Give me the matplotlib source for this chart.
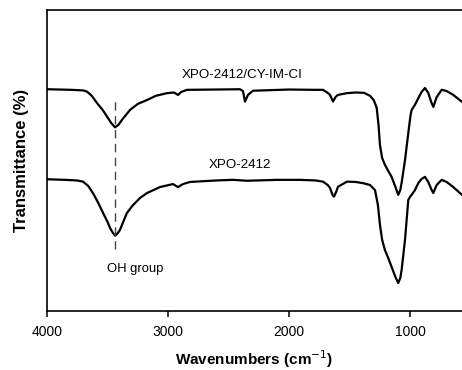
import matplotlib
matplotlib.use('Agg')
import matplotlib.pyplot as plt

plt.rcParams['font.family'] = ['Liberation Sans', 'DejaVu Sans']

# XPO-2412/CY-IM-CI (upper trace), arbitrary transmittance units
wn_top = [4000, 3800, 3700, 3669, 3630, 3587, 3540, 3504, 3470, 3438, 3410, 3380,
          3314, 3250, 3174, 3100, 3008, 2950, 2917, 2890, 2843, 2600, 2405, 2380,
          2364, 2350, 2339, 2298, 2000, 1800, 1719, 1680, 1661, 1636, 1615, 1595,
          1521, 1450, 1380, 1330, 1300, 1275, 1260, 1248, 1230, 1207, 1180, 1152,
          1120, 1097, 1080, 1069, 1041, 1014, 995, 986, 959, 930, 904, 876, 849,
          825, 807, 790, 779, 738, 697, 642, 570]
t_top = [73.9, 73.7, 73.5, 73.1, 71.7, 69.3, 67.0, 64.8, 62.7, 61.2, 62.0, 63.7,
         67.0, 69.0, 70.3, 71.7, 72.6, 72.8, 72.0, 73.0, 73.7, 73.8, 73.9, 73.3,
         69.8, 71.0, 72.0, 73.4, 73.8, 73.7, 73.7, 72.7, 72.0, 69.8, 71.3, 72.0,
         72.6, 72.8, 72.7, 71.7, 70.3, 67.7, 62.0, 55.3, 51.0, 48.7, 46.7, 44.7,
         41.3, 38.7, 40.3, 42.7, 50.3, 59.3, 65.3, 67.0, 68.7, 71.0, 73.0, 74.3, 72.7,
         69.7, 68.0, 70.0, 71.3, 73.7, 73.3, 72.0, 69.7]

# XPO-2412 (lower trace)
wn_bot = [4000, 3850, 3750, 3702, 3660, 3620, 3580, 3537, 3500, 3479, 3455, 3438,
          3420, 3397, 3370, 3339, 3289, 3230, 3174, 3066, 2959, 2917, 2876, 2818,
          2600, 2463, 2347, 2100, 1909, 1780, 1719, 1680, 1661, 1640, 1628, 1610,
          1595, 1521, 1450, 1388, 1331, 1289, 1265, 1248, 1230, 1207, 1180, 1152,
          1120, 1097, 1080, 1069, 1041, 1014, 995, 986, 959, 930, 904, 876, 849,
          825, 807, 790, 779, 738, 697, 642, 570]
t_bot = [43.9, 43.7, 43.5, 43.1, 41.7, 39.3, 36.3, 32.7, 29.7, 27.7, 26.0, 25.1,
         25.7, 27.0, 29.7, 32.7, 35.3, 37.7, 39.3, 41.3, 42.3, 41.3, 42.3, 43.0,
         43.5, 43.7, 43.4, 43.7, 43.7, 43.5, 43.1, 42.0, 41.0, 38.7, 38.1, 39.7,
         41.4, 43.1, 43.0, 42.6, 42.0, 40.3, 35.3, 28.7, 23.7, 20.3, 17.7, 14.7,
         11.3, 9.3, 11.0, 13.7, 23.7, 37.0, 38.3, 38.7, 40.3, 42.7, 44.0, 44.7, 43.0,
         40.7, 39.3, 41.0, 42.0, 43.7, 43.0, 41.3, 38.7]

oh_wn = 3438
oh_span = (20.7, 71.3)

fig = plt.figure(figsize=(4.62, 3.70), dpi=100)
ax = fig.add_axes([47 / 462, 59 / 370, 1 - 47 / 462, 301 / 370])

ax.plot(wn_top, t_top, color='black', lw=1.6)
ax.plot(wn_bot, t_bot, color='black', lw=1.6)
ax.plot([oh_wn, oh_wn], oh_span, color='#444444', lw=1.0, ls=(0, (6, 4)))

ax.text(2385, 78.8, 'XPO-2412/CY-IM-CI', ha='center', va='center', fontsize=9.6)
ax.text(2405, 48.8, 'XPO-2412', ha='center', va='center', fontsize=9.6)
ax.text(3273, 14, 'OH group', ha='center', va='center', fontsize=9.4)

ax.set_xlim(4000, 570)
ax.set_ylim(0, 100.3)
ax.set_xticks([4000, 3000, 2000, 1000])
ax.set_yticks([])
ax.tick_params(axis='x', direction='out', length=4, width=1.1, labelsize=10, pad=6)
for s in ['left', 'bottom', 'top']:
    ax.spines[s].set_linewidth(1.2)
ax.spines['right'].set_visible(False)

ax.set_xlabel('Wavenumbers (cm$^{-1}$)', fontsize=11, fontweight='bold', labelpad=7)
ax.set_ylabel('Transmittance (%)', fontsize=12, fontweight='bold', labelpad=13)

fig.savefig('out.png', dpi=100)
